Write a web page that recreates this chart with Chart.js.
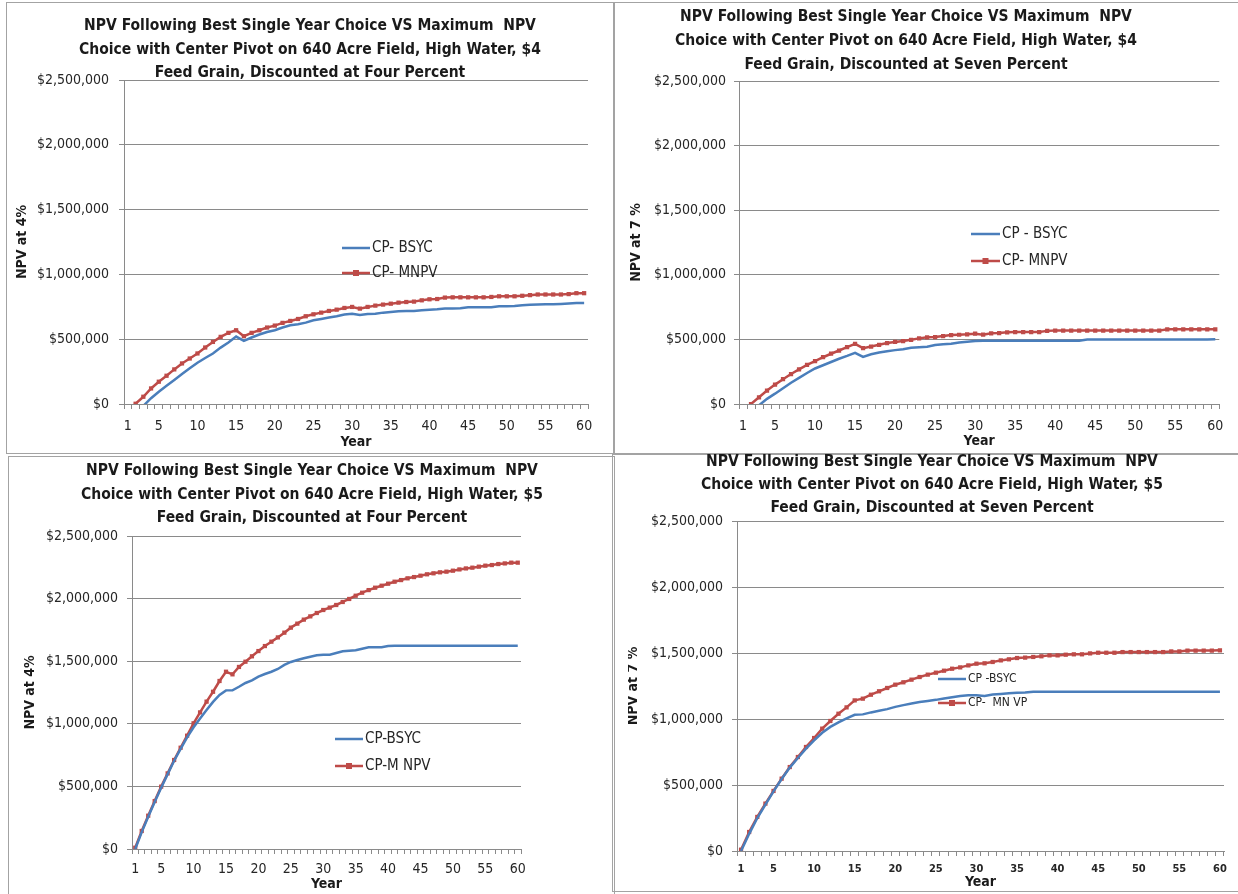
<!DOCTYPE html>
<html>
<head>
<meta charset="utf-8">
<title>NPV Best Single Year Choice vs Maximum NPV</title>
<script src="https://cdn.jsdelivr.net/npm/chart.js@4.4.0/dist/chart.umd.min.js"></script>
<style>
  html, body { margin: 0; padding: 0; background: #fff; overflow: hidden; }
  body { width: 1238px; height: 894px; position: relative; }
  .frame { position: absolute; border: 1.5px solid #a3a3a3; box-sizing: border-box; }
  canvas { position: absolute; }
</style>
</head>
<body>
<div class="frame" style="left:6px;top:2px;width:608px;height:452px"></div>
<div class="frame" style="left:614px;top:2px;width:640px;height:452px"></div>
<div class="frame" style="left:8px;top:456px;width:607px;height:450px"></div>
<div class="frame" style="left:612px;top:454px;width:640px;height:438px"></div>
<canvas id="chartTL"></canvas>
<canvas id="chartTR"></canvas>
<canvas id="chartBL"></canvas>
<canvas id="chartBR"></canvas>
<script>
// Years on the x axis
const years = [1, 2, 3, 4, 5, 6, 7, 8, 9, 10, 11, 12, 13, 14, 15, 16, 17, 18, 19, 20,
  21, 22, 23, 24, 25, 26, 27, 28, 29, 30, 31, 32, 33, 34, 35, 36, 37, 38, 39, 40,
  41, 42, 43, 44, 45, 46, 47, 48, 49, 50, 51, 52, 53, 54, 55, 56, 57, 58, 59, 60];
const labeledYears = [1, 5, 10, 15, 20, 25, 30, 35, 40, 45, 50, 55, 60];
const yTicks = [0, 500000, 1000000, 1500000, 2000000, 2500000];

// $4 feed grain, 4% discount
const bsycGrain4Rate4 = [-100000, -60000, -15000, 45000, 95000, 140000, 185000, 232000, 275000, 318000,
  355000, 390000, 435000, 475000, 520000, 487000, 513000, 536000, 556000, 569000,
  590000, 608000, 615000, 628000, 646000, 656000, 667000, 677000, 690000, 697000,
  687000, 695000, 697000, 705000, 710000, 715000, 718000, 718000, 723000, 728000,
  731000, 736000, 736000, 738000, 746000, 746000, 746000, 746000, 754000, 754000,
  756000, 762000, 765000, 768000, 770000, 770000, 772000, 775000, 779000, 779000];
const mnpvGrain4Rate4 = [-50000, 2000, 56000, 120000, 172000, 218000, 267000, 313000, 351000, 390000,
  436000, 479000, 518000, 549000, 569000, 523000, 549000, 569000, 590000, 605000,
  626000, 641000, 656000, 677000, 692000, 705000, 718000, 728000, 741000, 749000,
  736000, 749000, 759000, 767000, 774000, 782000, 787000, 790000, 800000, 808000,
  810000, 821000, 823000, 823000, 823000, 823000, 823000, 826000, 831000, 831000,
  831000, 835000, 840000, 845000, 845000, 845000, 845000, 848000, 855000, 855000];

// $4 feed grain, 7% discount
const bsycGrain4Rate7 = [-95000, -55000, -10000, 40000, 80000, 122000, 165000, 202000, 240000, 275000,
  300000, 325000, 350000, 372000, 396000, 365000, 385000, 398000, 409000, 417000,
  424000, 435000, 440000, 443000, 456000, 463000, 466000, 476000, 482000, 487000,
  490000, 490000, 490000, 490000, 490000, 490000, 490000, 490000, 490000, 490000,
  490000, 490000, 490000, 500000, 500000, 500000, 500000, 500000, 500000, 500000,
  500000, 500000, 500000, 500000, 500000, 500000, 500000, 500000, 500000, 502000];
const mnpvGrain4Rate7 = [-45000, 0, 52000, 104000, 150000, 192000, 232000, 268000, 302000, 332000,
  362000, 389000, 414000, 440000, 466000, 432000, 445000, 458000, 472000, 480000,
  487000, 497000, 508000, 516000, 518000, 526000, 534000, 536000, 539000, 544000,
  537000, 547000, 549000, 555000, 557000, 557000, 557000, 557000, 566000, 568000,
  568000, 568000, 568000, 568000, 568000, 568000, 568000, 568000, 568000, 568000,
  568000, 568000, 568000, 578000, 578000, 578000, 578000, 578000, 578000, 578000];

// $5 feed grain, 4% discount
const bsycGrain5Rate4 = [0, 135000, 258000, 375000, 490000, 598000, 705000, 800000, 892000, 972000,
  1043000, 1110000, 1175000, 1230000, 1267000, 1268000, 1296000, 1326000, 1347000, 1377000,
  1398000, 1416000, 1438000, 1470000, 1494000, 1510000, 1523000, 1536000, 1547000, 1552000,
  1552000, 1565000, 1579000, 1584000, 1587000, 1600000, 1611000, 1611000, 1611000, 1621000,
  1624000, 1624000, 1624000, 1624000, 1624000, 1624000, 1624000, 1624000, 1624000, 1624000,
  1624000, 1624000, 1624000, 1624000, 1624000, 1624000, 1624000, 1624000, 1624000, 1624000];
const mnpvGrain5Rate4 = [10000, 144000, 266000, 383000, 498000, 604000, 711000, 809000, 905000, 1004000,
  1091000, 1177000, 1256000, 1342000, 1416000, 1395000, 1454000, 1496000, 1539000, 1581000,
  1621000, 1656000, 1690000, 1728000, 1768000, 1800000, 1832000, 1858000, 1885000, 1909000,
  1928000, 1949000, 1973000, 1997000, 2023000, 2047000, 2068000, 2087000, 2103000, 2119000,
  2135000, 2148000, 2162000, 2172000, 2183000, 2194000, 2202000, 2210000, 2215000, 2223000,
  2233000, 2241000, 2247000, 2255000, 2263000, 2268000, 2276000, 2281000, 2287000, 2287000];

// $5 feed grain, 7% discount
const bsycGrain5Rate7 = [0, 130000, 250000, 352000, 452000, 545000, 632000, 705000, 775000, 838000,
  896000, 940000, 975000, 1005000, 1032000, 1035000, 1050000, 1062000, 1075000, 1092000,
  1105000, 1118000, 1128000, 1137000, 1145000, 1155000, 1165000, 1175000, 1180000, 1180000,
  1175000, 1185000, 1190000, 1195000, 1198000, 1200000, 1207000, 1207000, 1207000, 1207000,
  1207000, 1207000, 1207000, 1207000, 1207000, 1207000, 1207000, 1207000, 1207000, 1207000,
  1207000, 1207000, 1207000, 1207000, 1207000, 1207000, 1207000, 1207000, 1207000, 1207000];
const mnpvGrain5Rate7 = [10000, 144000, 258000, 359000, 455000, 548000, 636000, 712000, 788000, 856000,
  927000, 985000, 1040000, 1088000, 1141000, 1154000, 1184000, 1210000, 1235000, 1260000,
  1278000, 1298000, 1318000, 1336000, 1351000, 1366000, 1381000, 1391000, 1406000, 1419000,
  1422000, 1432000, 1444000, 1452000, 1462000, 1465000, 1470000, 1475000, 1482000, 1482000,
  1487000, 1490000, 1490000, 1497000, 1502000, 1502000, 1502000, 1507000, 1507000, 1507000,
  1507000, 1507000, 1507000, 1512000, 1512000, 1518000, 1518000, 1518000, 1518000, 1520000];

const FONT = "'Liberation Sans Narrow', 'DejaVu Sans Condensed', 'Liberation Sans', sans-serif";
const BLUE = '#4a7ebb';
const RED = '#be4b48';
const GRID = '#8a8a8a';
const TEXT = '#262626';

Chart.defaults.font.family = FONT;

// draws the legend inside the plot, like the Excel originals
const innerLegend = {
  id: 'innerLegend',
  afterDraw(chart, args, opts) {
    const ctx = chart.ctx;
    ctx.save();
    ctx.font = opts.fontSize + 'px ' + FONT;
    ctx.textBaseline = 'middle';
    chart.data.datasets.forEach((ds, i) => {
      const y = opts.y[i];
      ctx.strokeStyle = ds.borderColor;
      ctx.lineWidth = ds.borderWidth;
      ctx.beginPath();
      ctx.moveTo(opts.x1, y);
      ctx.lineTo(opts.x2, y);
      ctx.stroke();
      if (ds.pointRadius > 0) {
        const r = ds.pointRadius;
        const mid = (opts.x1 + opts.x2) / 2;
        ctx.fillStyle = ds.pointBackgroundColor;
        ctx.fillRect(mid - r, y - r, r * 2, r * 2);
      }
      ctx.fillStyle = TEXT;
      ctx.fillText(ds.label, opts.x2 + 2, y);
    });
    ctx.restore();
  }
};

function makeChart(id, p) {
  const canvas = document.getElementById(id);
  canvas.width = p.w;
  canvas.height = p.h;
  canvas.style.left = p.left + 'px';
  canvas.style.top = p.top + 'px';

  return new Chart(canvas, {
    type: 'line',
    data: {
      labels: years,
      datasets: [{
        label: p.names[0],
        data: p.bsyc,
        borderColor: BLUE,
        backgroundColor: BLUE,
        borderWidth: 2.5,
        pointRadius: 0,
        tension: 0
      }, {
        label: p.names[1],
        data: p.mnpv,
        borderColor: RED,
        backgroundColor: RED,
        borderWidth: 2.5,
        pointStyle: 'rect',
        pointRadius: 3,
        pointBackgroundColor: RED,
        pointBorderWidth: 0,
        tension: 0
      }]
    },
    options: {
      responsive: false,
      animation: false,
      layout: { padding: 0 },
      plugins: {
        legend: { display: false },
        tooltip: { enabled: false },
        title: {
          display: true,
          text: p.title,
          color: '#1a1a1a',
          font: { size: 15.5, weight: 'bold', lineHeight: p.titleLh + 'px' },
          padding: { top: p.titleTop, bottom: p.titleBottom }
        },
        innerLegend: p.legend
      },
      scales: {
        x: {
          offset: true,
          grid: { offset: true, drawOnChartArea: false, tickLength: 5, color: GRID },
          border: { color: GRID },
          ticks: {
            autoSkip: false,
            maxRotation: 0,
            padding: p.xTickPad,
            color: TEXT,
            font: p.xTickFont,
            callback: function (v) {
              const yr = this.getLabelForValue(v);
              return labeledYears.includes(yr) ? String(yr) : '';
            }
          },
          title: { display: true, text: 'Year', color: '#1a1a1a', font: { size: 14, weight: 'bold' }, padding: { top: 0, bottom: p.yearPad } },
          afterFit: s => { s.height = p.xH; }
        },
        y: {
          min: 0,
          max: 2500000,
          afterBuildTicks: s => { s.ticks = yTicks.map(v => ({ value: v })); },
          ticks: {
            padding: p.yTickPad,
            color: TEXT,
            font: { size: 14 },
            callback: v => '$' + v.toLocaleString('en-US')
          },
          grid: { color: GRID, tickLength: 5 },
          border: { color: GRID },
          title: { display: true, text: p.yTitle, color: '#1a1a1a', font: { size: 14, weight: 'bold' }, padding: { top: p.yTitlePad, bottom: 0 } },
          afterFit: s => { s.width = p.yW; }
        },
        yR: {
          position: 'right',
          grid: { display: false },
          border: { display: false },
          ticks: { display: false },
          afterFit: s => { s.width = p.rW; }
        }
      }
    },
    plugins: [innerLegend]
  });
}

const titleLine1 = 'NPV Following Best Single Year Choice VS Maximum  NPV';

makeChart('chartTL', {
  left: 7, top: 3, w: 606, h: 450,
  yW: 117, rW: 25, xH: 49,
  titleLh: 23.5, titleTop: 11.25, titleBottom: -4.75,
  title: [titleLine1, 'Choice with Center Pivot on 640 Acre Field, High Water, $4', 'Feed Grain, Discounted at Four Percent'],
  yTitle: 'NPV at 4%', yTitlePad: 6.6, yearPad: 2.6,
  xTickPad: 8.6, yTickPad: 10, xTickFont: { size: 14 },
  names: ['CP- BSYC', 'CP- MNPV'],
  bsyc: bsycGrain4Rate4, mnpv: mnpvGrain4Rate4,
  legend: { x1: 335, x2: 363, y: [245, 270], fontSize: 15 }
});

makeChart('chartTR', {
  left: 580, top: 3, w: 652, h: 450,
  yW: 159, rW: 12, xH: 49,
  titleLh: 24, titleTop: 2, titleBottom: 4,
  title: [titleLine1, 'Choice with Center Pivot on 640 Acre Field, High Water, $4', 'Feed Grain, Discounted at Seven Percent'],
  yTitle: 'NPV at 7 %', yTitlePad: 47.6, yearPad: 3.6,
  xTickPad: 8.6, yTickPad: 8, xTickFont: { size: 14 },
  names: ['CP - BSYC', 'CP- MNPV'],
  bsyc: bsycGrain4Rate7, mnpv: mnpvGrain4Rate7,
  legend: { x1: 391, x2: 420, y: [231, 258], fontSize: 15 }
});

makeChart('chartBL', {
  left: 8, top: 457, w: 608, h: 437,
  yW: 124, rW: 95, xH: 45,
  titleLh: 23.5, titleTop: 2.25, titleBottom: 6.25,
  title: [titleLine1, 'Choice with Center Pivot on 640 Acre Field, High Water, $5', 'Feed Grain, Discounted at Four Percent'],
  yTitle: 'NPV at 4%', yTitlePad: 13.6, yearPad: 1.6,
  xTickPad: 6.6, yTickPad: 9, xTickFont: { size: 14 },
  names: ['CP-BSYC', 'CP-M NPV'],
  bsyc: bsycGrain5Rate4, mnpv: mnpvGrain5Rate4,
  legend: { x1: 327, x2: 355, y: [282, 309], fontSize: 15 }
});

makeChart('chartBR', {
  left: 628, top: 447, w: 608, h: 445,
  yW: 109, rW: 12, xH: 41,
  titleLh: 23, titleTop: 3.5, titleBottom: 1.5,
  title: [titleLine1, 'Choice with Center Pivot on 640 Acre Field, High Water, $5', 'Feed Grain, Discounted at Seven Percent'],
  yTitle: 'NPV at 7 %', yTitlePad: -3.4, yearPad: 1.6,
  xTickPad: 6.4, yTickPad: 9, xTickFont: { size: 11, weight: 'bold' },
  names: ['CP -BSYC', 'CP-  MN VP'],
  bsyc: bsycGrain5Rate7, mnpv: mnpvGrain5Rate7,
  legend: { x1: 310, x2: 338, y: [232, 256], fontSize: 12 }
});
</script>
</body>
</html>
